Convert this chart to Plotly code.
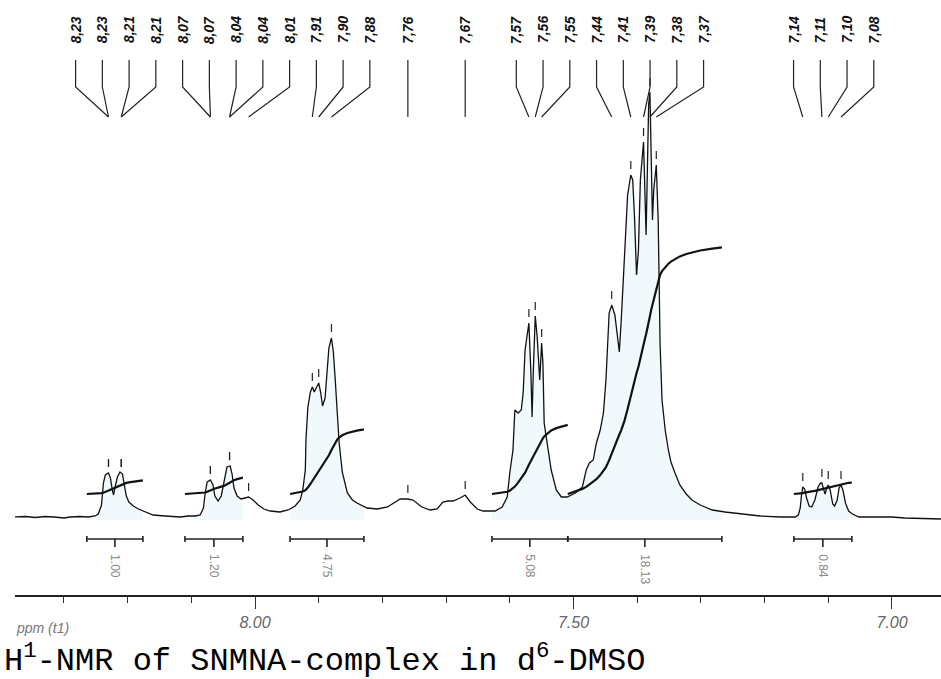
import numpy as np
import plotly.graph_objects as go

# 1H-NMR trace, aromatic region (chemical shift in ppm, intensity in arbitrary units)
spec_ppm = [
    8.378, 8.360, 8.345, 8.330, 8.315, 8.300, 8.290, 8.275, 8.262, 8.251,
    8.246, 8.241, 8.238, 8.235, 8.230, 8.227, 8.224, 8.222, 8.220, 8.216,
    8.212, 8.208, 8.205, 8.202, 8.198, 8.191, 8.183, 8.172, 8.160, 8.141,
    8.130, 8.117, 8.105, 8.094, 8.086, 8.081, 8.078, 8.075, 8.070, 8.066,
    8.063, 8.058, 8.053, 8.048, 8.044, 8.039, 8.036, 8.033, 8.028, 8.022,
    8.016, 8.010, 8.003, 7.995, 7.986, 7.976, 7.961, 7.948, 7.937, 7.929,
    7.925, 7.921, 7.920, 7.917, 7.913, 7.910, 7.907, 7.904, 7.900, 7.897,
    7.894, 7.890, 7.887, 7.884, 7.880, 7.877, 7.874, 7.871, 7.868, 7.863,
    7.855, 7.847, 7.840, 7.824, 7.808, 7.792, 7.780, 7.772, 7.760, 7.752,
    7.738, 7.725, 7.714, 7.705, 7.697, 7.689, 7.678, 7.670, 7.662, 7.651,
    7.642, 7.623, 7.612, 7.604, 7.600, 7.595, 7.592, 7.587, 7.582, 7.579,
    7.576, 7.570, 7.567, 7.565, 7.563, 7.560, 7.557, 7.553, 7.550, 7.548,
    7.546, 7.541, 7.535, 7.527, 7.519, 7.510, 7.497, 7.486, 7.480, 7.475,
    7.469, 7.464, 7.458, 7.453, 7.449, 7.444, 7.440, 7.435, 7.431, 7.428,
    7.425, 7.420, 7.415, 7.410, 7.407, 7.404, 7.401, 7.398, 7.395, 7.390,
    7.388, 7.386, 7.384, 7.382, 7.380, 7.378, 7.376, 7.374, 7.370, 7.367,
    7.364, 7.361, 7.356, 7.351, 7.347, 7.340, 7.333, 7.323, 7.314, 7.301,
    7.282, 7.262, 7.238, 7.207, 7.175, 7.152, 7.147, 7.144, 7.142, 7.140,
    7.137, 7.134, 7.130, 7.126, 7.121, 7.116, 7.112, 7.110, 7.107, 7.105,
    7.102, 7.100, 7.097, 7.093, 7.090, 7.086, 7.083, 7.080, 7.077, 7.073,
    7.068, 7.062, 7.052, 7.040, 7.020, 7.000, 6.980, 6.960, 6.940, 6.923,
]
spec_int = [
    3.0, 3.5, 2.5, 3.5, 3.0, 2.0, 3.0, 3.5, 3.0, 4.0,
    6, 15, 37, 45, 47, 42, 30, 25, 32, 43,
    48, 46, 34, 24, 18, 14, 11, 8, 5, 4,
    3.5, 3, 4, 4, 5, 12, 28, 38, 40, 35,
    24, 19, 24, 40, 53, 54, 46, 32, 24, 21,
    22, 23, 20, 15, 11, 9, 8, 10, 14, 20,
    30, 50, 80, 113, 128, 133, 128, 132, 137, 128,
    114, 122, 148, 172, 182, 168, 140, 110, 78, 48,
    27, 20, 17, 12, 11, 13, 18, 21, 21, 20,
    13, 10, 11, 18, 19, 19, 22, 25, 18, 11,
    9, 9, 13, 23, 47, 70, 110, 107, 110, 127,
    170, 197, 150, 103, 150, 204, 183, 140, 177, 157,
    97, 77, 50, 30, 23, 23, 27, 33, 50, 57,
    60, 77, 90, 107, 140, 207, 215, 205, 180, 168,
    200, 260, 325, 345, 340, 300, 245, 270, 340, 378,
    330, 285, 350, 415, 428, 360, 300, 330, 355, 300,
    175, 120, 90, 70, 58, 46, 35, 26, 20, 15,
    10, 8, 6, 4, 3, 3, 5, 12, 25, 33,
    31, 22, 14, 13, 20, 33, 37, 37, 30, 26,
    33, 35, 30, 16, 14, 20, 32, 35, 30, 17,
    9, 6, 3, 3, 2.5, 3, 2, 1.5, 1.5, 1,
]

# Picked peaks
peak_ppm = [8.23, 8.23, 8.21, 8.21, 8.07, 8.07, 8.04, 8.04, 8.01,
            7.91, 7.90, 7.88, 7.76, 7.67, 7.57, 7.56, 7.55,
            7.44, 7.41, 7.39, 7.38, 7.37, 7.14, 7.11, 7.10, 7.08]

# Integration regions and normalised integrals
int_from = [8.264, 8.110, 7.945, 7.628, 7.509, 7.154]
int_to = [8.176, 8.019, 7.829, 7.509, 7.267, 7.063]
int_value = [1.00, 1.20, 4.75, 5.08, 18.13, 0.84]

# ---------------------------------------------------------------------------
X_RANGE = [8.3768, 6.923]
Y_RANGE = [-75, 520]
LABEL_GAP = 0.042        # minimum spacing of peak labels (ppm)
LABEL_SHIFT = 0.016      # offset applied to grouped labels
LABEL_Y = 490
LEAD_TOP, LEAD_KNEE, LEAD_END = 460, 433, 403
INT_BASE = 26            # vertical start of integral curves
INT_SCALE = 13.6         # height per integral unit
BRACKET_Y = -19

ppm = np.array(spec_ppm)
inten = np.array(spec_int)
ppm_asc = ppm[::-1]
int_asc = inten[::-1]


def spread_labels(values, gap, shift):
    """Push overlapping labels apart, keeping each group centred on its peaks."""
    order = sorted(range(len(values)), key=lambda i: -values[i])
    clusters = [[i] for i in order]

    def place(cl):
        c = np.mean([values[i] for i in cl])
        n = len(cl)
        return [c + (n - 1) / 2 * gap - k * gap for k in range(n)]

    merged = True
    while merged:
        merged = False
        pos = [place(c) for c in clusters]
        for j in range(len(clusters) - 1):
            if pos[j][-1] - pos[j + 1][0] < gap - 1e-9:
                clusters[j] = clusters[j] + clusters[j + 1]
                del clusters[j + 1]
                merged = True
                break
    out = [0.0] * len(values)
    for cl in clusters:
        s = shift if len(cl) > 1 else 0.0
        for i, p in zip(cl, place(cl)):
            out[i] = p - s
    return out


def region(a, b):
    m = (ppm <= a) & (ppm >= b)
    xs = np.concatenate([[a], ppm[m], [b]])
    ys = np.concatenate([[np.interp(a, ppm_asc, int_asc)], inten[m],
                         [np.interp(b, ppm_asc, int_asc)]])
    return xs, ys


fig = go.Figure()

# faint fill under the integrated multiplets
for a, b in zip(int_from, int_to):
    xs, ys = region(a, b)
    fig.add_trace(go.Scatter(x=xs, y=ys, mode="lines", line=dict(width=0),
                             fill="tozeroy", fillcolor="rgba(225,241,251,0.45)",
                             hoverinfo="skip"))

# spectrum
fig.add_trace(go.Scatter(x=ppm, y=inten, mode="lines",
                         line=dict(color="#111", width=1.3)))

# integral curves
for a, b, v in zip(int_from, int_to, int_value):
    xs, ys = region(a, b)
    cum = np.concatenate([[0.0], np.cumsum((ys[1:] + ys[:-1]) / 2 * np.abs(np.diff(xs)))])
    curve = INT_BASE + v * INT_SCALE * cum / cum[-1]
    fig.add_trace(go.Scatter(x=xs, y=curve, mode="lines",
                             line=dict(color="#111", width=2.2)))

# integral brackets
bx, by = [], []
for a, b in zip(int_from, int_to):
    mid = (a + b) / 2
    bx += [a, a, None, a, b, None, b, b, None, mid, mid, None]
    by += [BRACKET_Y + 3, BRACKET_Y - 3, None, BRACKET_Y, BRACKET_Y, None,
           BRACKET_Y + 3, BRACKET_Y - 3, None, BRACKET_Y, BRACKET_Y - 8, None]
fig.add_trace(go.Scatter(x=bx, y=by, mode="lines", line=dict(color="#222", width=1.6)))

annotations = []
for a, b, v in zip(int_from, int_to, int_value):
    annotations.append(dict(x=(a + b) / 2, y=BRACKET_Y - 13, xref="x", yref="y",
                            text=f"{v:.2f}", textangle=90, showarrow=False,
                            xanchor="center", yanchor="top",
                            font=dict(family="Liberation Sans", size=12, color="#888")))

# peak markers above the maxima
peak_top = np.interp(peak_ppm, ppm_asc, int_asc)
tx, ty = [], []
for p, h in zip(peak_ppm, peak_top):
    tx += [p, p, None]
    ty += [h + 6, h + 14, None]
fig.add_trace(go.Scatter(x=tx, y=ty, mode="lines", line=dict(color="#222", width=1.2)))

# peak labels with leader lines
label_pos = spread_labels(peak_ppm, LABEL_GAP, LABEL_SHIFT)
lx, ly = [], []
for p, q in zip(peak_ppm, label_pos):
    lx += [q, q, p, None]
    ly += [LEAD_TOP, LEAD_KNEE, LEAD_END, None]
    annotations.append(dict(x=q, y=LABEL_Y, xref="x", yref="y",
                            text=f"{p:.2f}".replace(".", ","), textangle=-90,
                            showarrow=False, xanchor="center", yanchor="middle",
                            font=dict(family="Liberation Sans", size=14, color="#111",
                                      weight="bold", style="italic")))
fig.add_trace(go.Scatter(x=lx, y=ly, mode="lines", line=dict(color="#222", width=1.2)))

annotations.append(dict(x=0, y=0, xref="paper", yref="paper", text="ppm (t1)",
                        showarrow=False, xanchor="left", yanchor="middle", yshift=-33,
                        borderpad=0,
                        font=dict(family="Liberation Sans", size=14, color="#777",
                                  style="italic")))
annotations.append(dict(x=0, y=0, xref="paper", yref="paper",
                        text="H<sup>1</sup>-NMR of SNMNA-complex in d<sup>6</sup>-DMSO",
                        showarrow=False, xanchor="left", yanchor="middle",
                        xshift=-12, yshift=-64, borderpad=0,
                        font=dict(family="Liberation Mono", size=32, color="#000")))

fig.update_layout(
    width=941, height=679,
    margin=dict(l=15, r=0, t=0, b=84),
    paper_bgcolor="white", plot_bgcolor="white",
    showlegend=False,
    annotations=annotations,
    xaxis=dict(range=X_RANGE, showgrid=False, zeroline=False,
               showline=True, linecolor="#222", linewidth=1.5,
               ticks="outside", ticklen=12, tickwidth=1.3, tickcolor="#333",
               tickmode="linear", tick0=7.0, dtick=0.5, tickformat=".2f",
               tickfont=dict(family="Liberation Sans", size=16, color="#666",
                             style="italic"),
               minor=dict(ticks="outside", ticklen=6, tickwidth=1.2,
                          tickcolor="#333", dtick=0.1, tick0=7.0)),
    yaxis=dict(range=Y_RANGE, visible=False),
)

fig.write_html("out.html")
